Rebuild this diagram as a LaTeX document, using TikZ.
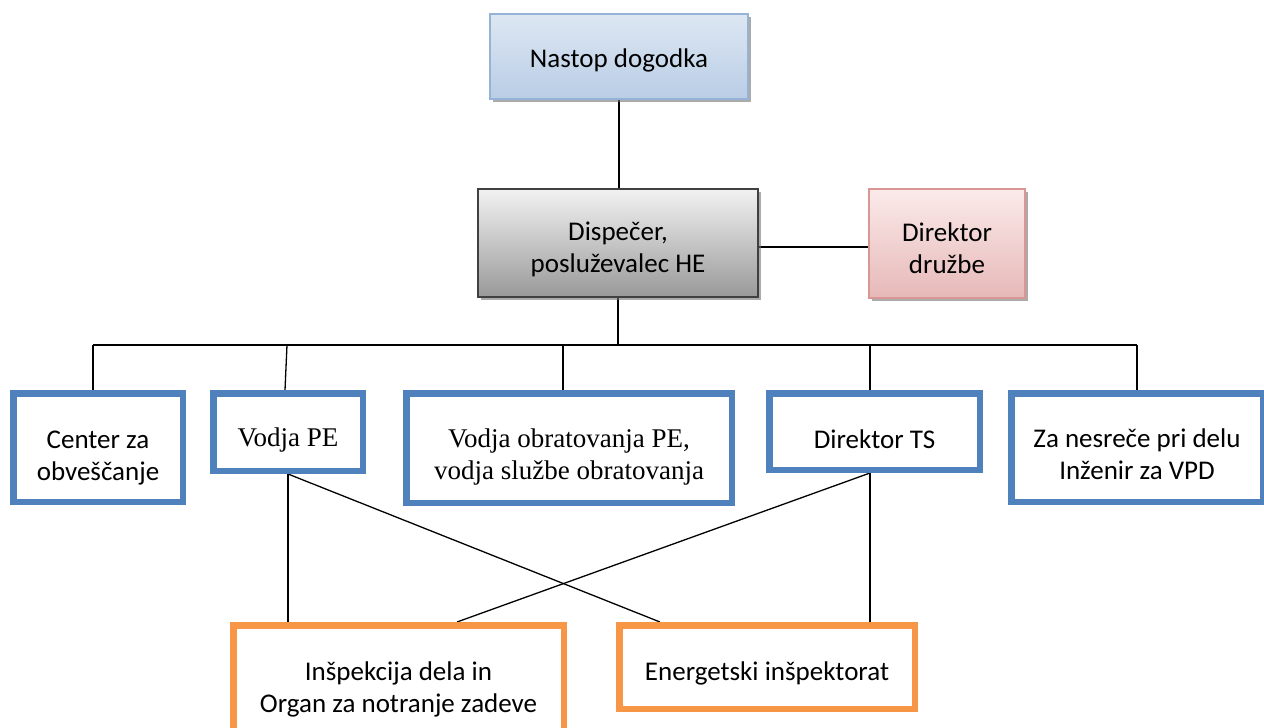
\documentclass[tikz,border=0pt]{standalone}
\usepackage{fontspec}
\setmainfont{Carlito}
\newfontfamily\tms{Liberation Serif}
\usetikzlibrary{shadows}
\pgfdeclarelayer{bg}
\pgfsetlayers{bg,main}
\definecolor{bstroke}{HTML}{4F81BD}
\definecolor{ostroke}{HTML}{F79646}
\definecolor{nTop}{HTML}{DDE7F3}
\definecolor{nBot}{HTML}{B9CDE5}
\definecolor{nLine}{HTML}{95B3D7}
\definecolor{gTop}{HTML}{F2F2F2}
\definecolor{gBot}{HTML}{999999}
\definecolor{gLine}{HTML}{404040}
\definecolor{rTop}{HTML}{FBEAEA}
\definecolor{rBot}{HTML}{E6B9B8}
\definecolor{rLine}{HTML}{D99694}
\tikzset{
  shbox/.style={rectangle, line width=1.5pt, inner sep=0pt,
    drop shadow={shadow xshift=3pt, shadow yshift=-3pt, opacity=0.6, fill=black!55}},
  bluebox/.style={rectangle, draw=bstroke, line width=6.5pt, fill=white, inner sep=0pt},
  orangebox/.style={rectangle, draw=ostroke, line width=6.5pt, fill=white, inner sep=0pt},
  txt/.style={inner sep=0pt, anchor=base, font=\fontsize{27}{32}\selectfont},
  txtser/.style={txt, font=\fontsize{27}{32}\selectfont\tms},
  conn/.style={draw=black, line width=1.3pt}
}
\begin{document}
\begin{tikzpicture}[x=1pt,y=-1pt]
\useasboundingbox (0,0) rectangle (1264,728);
\clip (0,0) rectangle (1264,728);

% shaded boxes
\node[shbox, draw=nLine, top color=nTop, bottom color=nBot, minimum width=258pt, minimum height=85pt] (nastop) at (619,56.5) {};
\node[shbox, draw=gLine, top color=gTop, bottom color=gBot, minimum width=280pt, minimum height=108pt] (disp) at (618,243) {};
\node[shbox, draw=rLine, top color=rTop, bottom color=rBot, minimum width=156pt, minimum height=109pt] (dir) at (947,243.5) {};

% blue boxes
\node[bluebox, minimum width=169.5pt, minimum height=108.5pt] (cz) at (98,447.5) {};
\node[bluebox, minimum width=149.5pt, minimum height=77.5pt] (vpe) at (288,432) {};
\node[bluebox, minimum width=325.5pt, minimum height=109.5pt] (vo) at (569,448) {};
\node[bluebox, minimum width=210.5pt, minimum height=76.5pt] (dts) at (874.5,431.5) {};
\node[bluebox, minimum width=251.5pt, minimum height=108.5pt] (zn) at (1137,447.5) {};

% orange boxes
\node[orangebox, minimum width=330.5pt, minimum height=109.5pt] (ins) at (398.5,680) {};
\node[orangebox, minimum width=295.5pt, minimum height=83.5pt] (en) at (767,667) {};

% texts
\node[txt] (tNastop) at (619,67) {Nastop dogodka};
\node[txt] (tDisp) at (618,240) {\begin{tabular}[t]{@{}c@{}}Dispečer,\\posluževalec HE\end{tabular}};
\node[txt] (tDir) at (947,241) {\begin{tabular}[t]{@{}c@{}}Direktor\\družbe\end{tabular}};
\node[txt] (tCz) at (98,448) {\begin{tabular}[t]{@{}c@{}}Center za\\obveščanje\end{tabular}};
\node[txtser] (tVpe) at (288,446) {Vodja PE};
\node[txtser] (tVo) at (569,447) {\begin{tabular}[t]{@{}c@{}}Vodja obratovanja PE,\\vodja službe obratovanja\end{tabular}};
\node[txt] (tDts) at (874.5,448) {Direktor TS};
\node[txt] (tZn) at (1137,447) {\begin{tabular}[t]{@{}c@{}}Za nesreče pri delu\\Inženir za VPD\end{tabular}};
\node[txt] (tIns) at (398.5,680) {\begin{tabular}[t]{@{}c@{}}Inšpekcija dela in\\Organ za notranje zadeve\end{tabular}};
\node[txt] (tEn) at (767,680) {Energetski inšpektorat};

% connectors
\begin{pgfonlayer}{bg}
\fill[white] (0,0) rectangle (1264,728);
\coordinate (busL) at (93,345);
\coordinate (busR) at (1137,345);
\draw[conn] (nastop.south) -- (nastop.south |- disp.north);
\draw[conn] ([yshift=-4pt]disp.east) -- ([yshift=-4pt]disp.east -| dir.west);
\draw[conn] (disp.south) -- (disp.south |- busL);
\draw[conn] (busL) -- (busR);
\draw[conn] (busL) -- (busL |- cz.north);
\draw[conn] ([xshift=-1pt]vpe.north |- busL) -- ([xshift=-3pt]vpe.north);
\draw[conn] ([xshift=-6pt]vo.north |- busL) -- ([xshift=-6pt]vo.north);
\draw[conn] ([xshift=-4.5pt]dts.north |- busL) -- ([xshift=-4.5pt]dts.north);
\draw[conn] (busR) -- (busR |- zn.north);
\draw[conn] (vpe.south) -- (vpe.south |- ins.north);
\draw[conn] (vpe.south) -- ([xshift=-107pt]en.north);
\draw[conn] ([xshift=-4.5pt]dts.south) -- ([xshift=58.5pt]ins.north);
\draw[conn] ([xshift=-4.5pt]dts.south) -- ([xshift=-4.5pt]dts.south |- en.north);
\end{pgfonlayer}
\end{tikzpicture}
\end{document}
